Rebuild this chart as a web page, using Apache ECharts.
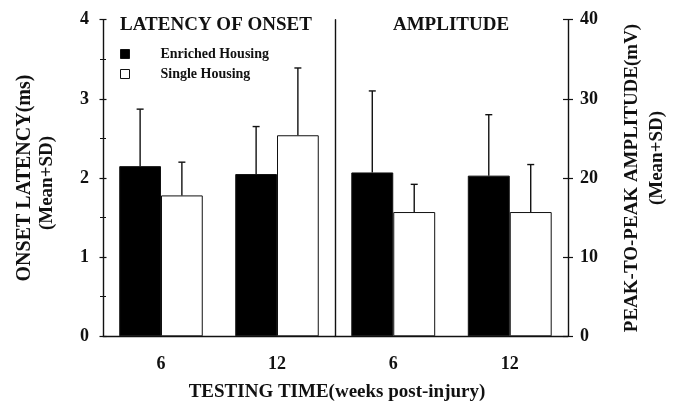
<!DOCTYPE html>
<html>
<head>
<meta charset="utf-8">
<script src="https://cdn.jsdelivr.net/npm/echarts@6/dist/echarts.min.js"></script>
<style>
html,body{margin:0;padding:0;background:#fff;}
#chart{width:676px;height:407px;}
</style>
</head>
<body>
<div id="chart"></div>
<script>
// ---- data ----
const categories = ['6', '12'];
const seriesNames = ['Enriched Housing', 'Single Housing'];
const latencyEnriched = [2.15, 2.05];
const latencyEnrichedSD = [0.72, 0.60];
const latencySingle = [1.78, 2.54];
const latencySingleSD = [0.42, 0.85];
const amplitudeEnriched = [20.7, 20.3];
const amplitudeEnrichedSD = [10.3, 7.7];
const amplitudeSingle = [15.7, 15.7];
const amplitudeSingleSD = [3.5, 6.0];
const latencyTicks = {min: 0, max: 4, interval: 1};
const amplitudeTicks = {min: 0, max: 40, interval: 10};

// ---- style ----
const FONT = '"Liberation Serif", "Times New Roman", serif';
const INK = '#111';
const BAR_FRAC = 0.36;

function errSeries(xIdx, yIdx, means, sds, side) {
  return {
    type: 'custom',
    xAxisIndex: xIdx, yAxisIndex: yIdx, z: 5, silent: true,
    data: categories.map((c, i) => [i, means[i], sds[i]]),
    renderItem: function (params, api) {
      const i = api.value(0), m = api.value(1), s = api.value(2);
      const band = api.size([1, 0])[0];
      const bw = band * BAR_FRAC;
      const base = api.coord([i, m]);
      const cx = base[0] + side * bw / 2;
      const top = api.coord([i, m + s])[1];
      const st = {stroke: INK, lineWidth: 1.4};
      return {type: 'group', children: [
        {type: 'line', shape: {x1: cx, y1: base[1], x2: cx, y2: top}, style: st},
        {type: 'line', shape: {x1: cx - 3.5, y1: top, x2: cx + 3.5, y2: top}, style: st}
      ]};
    }
  };
}

function barSeries(name, xIdx, yIdx, vals, fill) {
  return {
    name: name, type: 'bar', xAxisIndex: xIdx, yAxisIndex: yIdx,
    data: vals, barWidth: (BAR_FRAC * 100) + '%', barGap: '0%',
    itemStyle: {color: fill, borderColor: INK, borderWidth: 1},
    emphasis: {disabled: true}
  };
}

const tickLabel = {fontFamily: FONT, fontWeight: 'bold', fontSize: 18, color: INK};
const axisLineStyle = {color: INK, width: 1.4};

const option = {
  animation: false,
  backgroundColor: '#fff',
  title: [
    {text: 'LATENCY OF ONSET', left: 216, top: 16, padding: 0, textAlign: 'center',
     textStyle: {fontFamily: FONT, fontWeight: 'bold', fontSize: 19, color: INK}},
    {text: 'AMPLITUDE', left: 451, top: 16, padding: 0, textAlign: 'center',
     textStyle: {fontFamily: FONT, fontWeight: 'bold', fontSize: 19, color: INK}},
    {text: 'TESTING TIME(weeks post-injury)', left: 337, top: 383, padding: 0, textAlign: 'center',
     textStyle: {fontFamily: FONT, fontWeight: 'bold', fontSize: 19, color: INK}}
  ],
  legend: {
    orient: 'vertical', left: 120, top: 47, padding: 0, itemWidth: 9, itemHeight: 9, itemGap: 6,
    icon: 'rect',
    data: [
      {name: seriesNames[0], itemStyle: {color: '#000', borderColor: INK, borderWidth: 1}},
      {name: seriesNames[1], itemStyle: {color: '#fff', borderColor: INK, borderWidth: 1}}
    ],
    textStyle: {fontFamily: FONT, fontWeight: 'bold', fontSize: 14, color: INK, padding: [0, 0, 0, 26]},
    selectedMode: false
  },
  grid: [
    {left: 103, right: 341, top: 19.7, bottom: 70.7},
    {left: 335, right: 108, top: 19.7, bottom: 70.7}
  ],
  xAxis: [
    {type: 'category', gridIndex: 0, data: categories,
     axisLine: {lineStyle: axisLineStyle}, axisTick: {show: false},
     axisLabel: Object.assign({margin: 19}, tickLabel)},
    {type: 'category', gridIndex: 1, data: categories,
     axisLine: {lineStyle: axisLineStyle}, axisTick: {show: false},
     axisLabel: Object.assign({margin: 19}, tickLabel)}
  ],
  yAxis: [
    // 0: left latency axis (labels, outer ticks)
    {type: 'value', gridIndex: 0, position: 'left',
     min: latencyTicks.min, max: latencyTicks.max, interval: latencyTicks.interval,
     axisLine: {show: true, lineStyle: axisLineStyle},
     axisTick: {show: true, inside: false, length: 3.5, lineStyle: {color: INK, width: 1.2}},
     minorTick: {show: true, splitNumber: 2, length: 3, lineStyle: {color: INK, width: 1}},
     splitLine: {show: false},
     axisLabel: Object.assign({margin: 14}, tickLabel),
     name: '{a|ONSET LATENCY(ms)}\n{b|(Mean+SD)}', nameLocation: 'middle', nameRotate: 90, nameGap: 44,
     nameTextStyle: {fontFamily: FONT, fontWeight: 'bold', fontSize: 19, color: INK,
       rich: {
         a: {fontFamily: FONT, fontWeight: 'bold', fontSize: 20, color: INK, lineHeight: 23},
         b: {fontFamily: FONT, fontWeight: 'bold', fontSize: 19, color: INK, lineHeight: 23, padding: [0, 10, 0, 0]}
       }}},
    // 1: inner ticks for left axis
    {type: 'value', gridIndex: 0, position: 'left',
     min: latencyTicks.min, max: latencyTicks.max, interval: latencyTicks.interval,
     axisLine: {show: false},
     axisTick: {show: true, inside: true, length: 3.5, lineStyle: {color: INK, width: 1.2}},
     minorTick: {show: true, splitNumber: 2, length: 3, lineStyle: {color: INK, width: 1}},
     splitLine: {show: false}, axisLabel: {show: false}},
    // 2: divider line between panels
    {type: 'value', gridIndex: 0, position: 'right',
     min: latencyTicks.min, max: latencyTicks.max, interval: latencyTicks.interval,
     axisLine: {show: true, lineStyle: axisLineStyle},
     axisTick: {show: false}, splitLine: {show: false}, axisLabel: {show: false}},
    // 3: right amplitude axis (labels, outer ticks)
    {type: 'value', gridIndex: 1, position: 'right',
     min: amplitudeTicks.min, max: amplitudeTicks.max, interval: amplitudeTicks.interval,
     axisLine: {show: true, lineStyle: axisLineStyle},
     axisTick: {show: true, inside: false, length: 5, lineStyle: {color: INK, width: 1.2}},
     splitLine: {show: false},
     axisLabel: Object.assign({margin: 12}, tickLabel),
     name: '{a|PEAK-TO-PEAK AMPLITUDE(mV)}\n{b|(Mean+SD)}', nameLocation: 'middle', nameRotate: 90, nameGap: 52,
     nameTextStyle: {fontFamily: FONT, fontWeight: 'bold', fontSize: 19, color: INK,
       rich: {
         a: {fontFamily: FONT, fontWeight: 'bold', fontSize: 19, color: INK, lineHeight: 25},
         b: {fontFamily: FONT, fontWeight: 'bold', fontSize: 19, color: INK, lineHeight: 25, padding: [0, 0, 0, 40]}
       }}},
    // 4: inner ticks for right axis
    {type: 'value', gridIndex: 1, position: 'right',
     min: amplitudeTicks.min, max: amplitudeTicks.max, interval: amplitudeTicks.interval,
     axisLine: {show: false},
     axisTick: {show: true, inside: true, length: 5, lineStyle: {color: INK, width: 1.2}},
     splitLine: {show: false}, axisLabel: {show: false}}
  ],
  series: [
    barSeries(seriesNames[0], 0, 0, latencyEnriched, '#000'),
    barSeries(seriesNames[1], 0, 0, latencySingle, '#fff'),
    barSeries(seriesNames[0], 1, 3, amplitudeEnriched, '#000'),
    barSeries(seriesNames[1], 1, 3, amplitudeSingle, '#fff'),
    errSeries(0, 0, latencyEnriched, latencyEnrichedSD, -1),
    errSeries(0, 0, latencySingle, latencySingleSD, 1),
    errSeries(1, 3, amplitudeEnriched, amplitudeEnrichedSD, -1),
    errSeries(1, 3, amplitudeSingle, amplitudeSingleSD, 1)
  ]
};

const chart = echarts.init(document.getElementById('chart'), null, {renderer: 'canvas'});
chart.setOption(option);
</script>
</body>
</html>
